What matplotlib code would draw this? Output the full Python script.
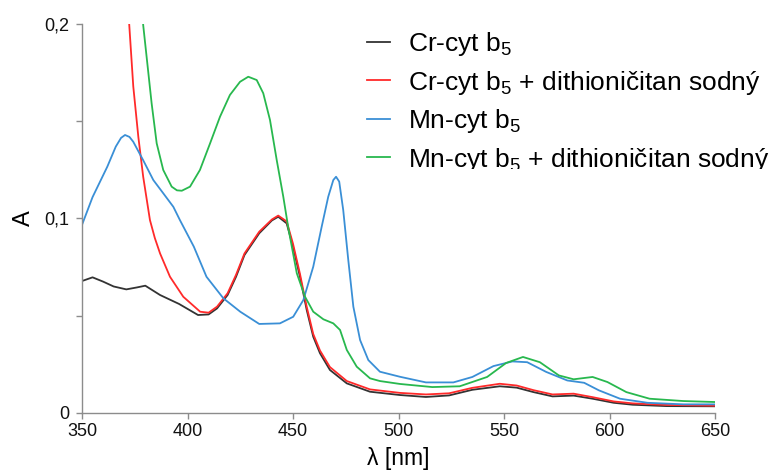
import matplotlib
matplotlib.use("Agg")
import matplotlib.pyplot as plt
from matplotlib.ticker import FixedLocator, FuncFormatter
from matplotlib.transforms import Bbox, TransformedBbox

plt.rcParams['font.family'] = ['Liberation Sans', 'DejaVu Sans']
plt.rcParams['mathtext.fontset'] = 'custom'
plt.rcParams['mathtext.rm'] = 'Liberation Sans'
plt.rcParams['mathtext.it'] = 'Liberation Sans:italic'

# ---- data ----
cr_wl = [350, 355, 360, 365, 371, 376, 380, 387, 396, 405, 410, 414, 419, 423, 427,
         434, 440, 443, 447, 450, 453.3, 456.5, 459.6, 462.8, 467.5, 475.5, 486.5,
         500.7, 513, 524, 535, 548, 556, 564, 573, 583, 592, 602, 611, 627, 650]
cr_a = [0.0678, 0.0697, 0.0675, 0.0650, 0.0635, 0.0645, 0.0654, 0.0606, 0.0560, 0.0503,
        0.0506, 0.0537, 0.0606, 0.0700, 0.0812, 0.0924, 0.0990, 0.1009, 0.0975, 0.0855,
        0.0700, 0.0529, 0.0391, 0.0306, 0.0220, 0.0151, 0.0108, 0.0091, 0.0081, 0.0089,
        0.0118, 0.0136, 0.0129, 0.0106, 0.0084, 0.0088, 0.0072, 0.0051, 0.0041, 0.0034,
        0.0033]

crd_wl = [370, 372.4, 374.3, 376.7, 379, 382.2, 384.5, 387, 391.7, 398, 406, 410,
          414, 419, 423, 427, 434, 440, 443, 447, 450, 453.3, 456.5, 459.6, 462.8, 467.5,
          475.5, 486.5, 500.7, 513, 524, 535, 548, 556, 564, 573, 583, 592, 602, 611,
          627, 650]
crd_a = [0.235, 0.1996, 0.1680, 0.1420, 0.1215, 0.0992, 0.0900, 0.0820, 0.0700,
         0.0597, 0.0520, 0.0515, 0.0546, 0.0615, 0.0710, 0.0820, 0.0932, 0.0995, 0.1015,
         0.0985, 0.0870, 0.0715, 0.0545, 0.0405, 0.0320, 0.0235, 0.0163, 0.0120, 0.0102,
         0.0094, 0.0100, 0.0128, 0.0149, 0.0140, 0.0116, 0.0094, 0.0098, 0.0080, 0.0058,
         0.0048, 0.0040, 0.0036]

mn_wl = [350, 355, 362, 366, 368.5, 370.4, 372.5, 374.3, 379, 383.8, 388.5, 393.3, 396.4,
         403, 409, 417, 425, 434, 443.8, 450.1, 454.9, 459.6, 463.6, 466.7, 469.1, 470.4,
         471.9, 473.8, 476.2, 478.6, 481.8, 485.7, 491.2, 500.7, 513, 526, 535, 545, 554,
         561, 570, 580, 588, 595, 605, 618, 635, 650]
mn_a = [0.0967, 0.1110, 0.1267, 0.1370, 0.1415, 0.1430, 0.1420, 0.1395, 0.1300, 0.1198,
        0.1130, 0.1060, 0.0992, 0.0855, 0.0700, 0.0589, 0.0520, 0.0457, 0.0460, 0.0494,
        0.0580, 0.0752, 0.0958, 0.1112, 0.1198, 0.1215, 0.1190, 0.1044, 0.0786, 0.0546,
        0.0374, 0.0271, 0.0211, 0.0185, 0.0156, 0.0156, 0.0184, 0.0240, 0.0264, 0.0260,
        0.0210, 0.0166, 0.0154, 0.0115, 0.0072, 0.0051, 0.0043, 0.0043]

mnd_wl = [377.5, 379, 383, 385.4, 388.5, 392.5, 395, 397.3, 401.2, 405.9, 410.7,
          415.4, 420.1, 424.9, 428.8, 432.8, 435.9, 439.1, 442.3, 445.4, 447.8, 451.8,
          455.7, 459.6, 464.4, 469.1, 472.3, 475.5, 480.2, 486.5, 491.2, 500.7, 516, 529,
          542, 551, 559, 567, 576, 583, 592, 599, 608, 619, 635, 650]
mnd_a = [0.230, 0.1996, 0.1593, 0.1387, 0.1250, 0.1164, 0.1145, 0.1143, 0.1164,
         0.1250, 0.1387, 0.1524, 0.1636, 0.1704, 0.1730, 0.1713, 0.1645, 0.1507, 0.1300,
         0.1112, 0.0950, 0.0718, 0.0597, 0.0520, 0.0481, 0.0460, 0.0426, 0.0323, 0.0237,
         0.0177, 0.0163, 0.0148, 0.0132, 0.0136, 0.0184, 0.0256, 0.0287, 0.0260, 0.0192,
         0.0172, 0.0184, 0.0158, 0.0106, 0.0072, 0.0060, 0.0055]

labels = [r'Cr-cyt b$_5$', r'Cr-cyt b$_5$ + dithioničitan sodný',
          r'Mn-cyt b$_5$', r'Mn-cyt b$_5$ + dithioničitan sodný']
colors = ['#333333', '#ff2a2a', '#3a8fd6', '#28b84e']

x_ticks = [350, 400, 450, 500, 550, 600, 650]
y_major = [0, 0.1, 0.2]
y_minor = [0.05, 0.15]

# ---- figure ----
fig = plt.figure(figsize=(7.71, 4.72), dpi=100)
ax = fig.add_axes([82 / 771, 59.3 / 472, (715 - 82) / 771, (412.7 - 24.3) / 472])

series = [(cr_wl, cr_a), (crd_wl, crd_a), (mn_wl, mn_a), (mnd_wl, mnd_a)]
for (wl, a), lab, c in zip(series, labels, colors):
    ax.plot(wl, a, color=c, lw=1.3, label=lab, solid_joinstyle='round')

ax.set_xlim(350, 650)
ax.set_ylim(0, 0.2)
ax.set_xticks(x_ticks)
ax.yaxis.set_major_locator(FixedLocator(y_major))
ax.yaxis.set_minor_locator(FixedLocator(y_minor))
ax.yaxis.set_major_formatter(FuncFormatter(lambda v, p: ('%g' % round(v, 3)).replace('.', ',')))

for s in ['top', 'right']:
    ax.spines[s].set_visible(False)
for s in ['left', 'bottom']:
    ax.spines[s].set_color('#8c8c8c')
    ax.spines[s].set_linewidth(1.0)

ax.tick_params(axis='x', which='major', direction='out', length=4, width=1.0,
               color='#8c8c8c', labelsize=13, pad=3.5, labelcolor='#111111')
ax.tick_params(axis='y', which='both', direction='out', length=4, width=1.0,
               color='#8c8c8c', labelsize=13, pad=5, labelcolor='#111111')

ax.set_xlabel('λ [nm]', fontsize=16.5, labelpad=5)
ax.set_ylabel('A', fontsize=17, labelpad=7)

leg = ax.legend(loc='upper left', bbox_to_anchor=(367 / 771, 1 - 30 / 472),
                bbox_transform=fig.transFigure, frameon=False, fontsize=19,
                handlelength=0.87, handletextpad=0.68, labelspacing=0.4,
                borderpad=0, borderaxespad=0)
for ln in leg.get_lines():
    ln.set_linewidth(1.3)

clip = TransformedBbox(Bbox([[0, 1 - 169 / 472], [1, 1]]), fig.transFigure)
for t in leg.get_texts():
    t.set_clip_box(clip)
    t.set_clip_on(True)

fig.savefig('out.png', dpi=100)
